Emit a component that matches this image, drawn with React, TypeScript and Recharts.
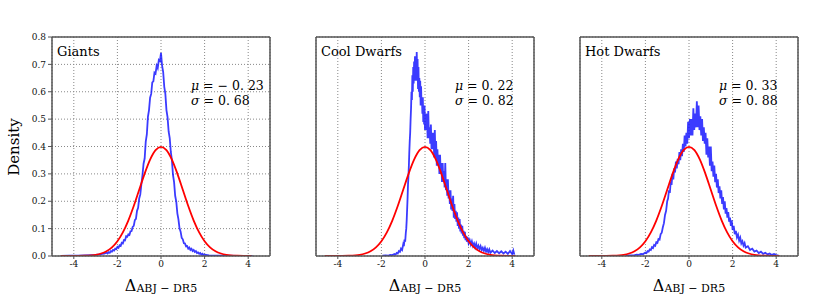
import React from 'react';
import { LineChart, Line, XAxis, YAxis, CartesianGrid, ReferenceLine } from 'recharts';

// ---------- data ----------
const panelTitles = ['Giants', 'Cool Dwarfs', 'Hot Dwarfs'];
const muLabels = ['− 0. 23', '0. 22', '0. 33'];
const sigmaLabels = ['0. 68', '0. 82', '0. 88'];
const xTicks = [-4, -2, 0, 2, 4];
const yTicks = [0, 0.1, 0.2, 0.3, 0.4, 0.5, 0.6, 0.7, 0.8];

// reference unit normal curve (red)
const redX = [-4.6, -4.2, -3.8, -3.5, -3.2, -3.0, -2.75, -2.5, -2.25, -2.0, -1.75, -1.5, -1.25, -1.0, -0.75, -0.5, -0.25, 0, 0.25, 0.5, 0.75, 1.0, 1.25, 1.5, 1.75, 2.0, 2.25, 2.5, 2.75, 3.0, 3.2, 3.5, 3.8, 4.15];
const redY = [0.00001, 0.00006, 0.0003, 0.0009, 0.0024, 0.0044, 0.0091, 0.0175, 0.0317, 0.054, 0.0863, 0.1295, 0.1826, 0.242, 0.3011, 0.3521, 0.3867, 0.3989, 0.3867, 0.3521, 0.3011, 0.242, 0.1826, 0.1295, 0.0863, 0.054, 0.0317, 0.0175, 0.0091, 0.0044, 0.0024, 0.0009, 0.0003, 0.00007];

// measured densities (blue) as [x, density]
const giantsBlue = [
  [-4.6, 0], [-4.2, 0.001], [-3.8, 0.001], [-3.5, 0.002], [-3.2, 0.003], [-3.0, 0.004], [-2.8, 0.006], [-2.7, 0.008], [-2.6, 0.009],
  [-2.5, 0.012], [-2.45, 0.009], [-2.4, 0.014], [-2.35, 0.012], [-2.3, 0.018], [-2.25, 0.016], [-2.2, 0.022], [-2.15, 0.02],
  [-2.1, 0.027], [-2.05, 0.025], [-2.0, 0.033], [-1.95, 0.03], [-1.9, 0.039], [-1.85, 0.037], [-1.8, 0.048], [-1.75, 0.046],
  [-1.7, 0.058], [-1.65, 0.057], [-1.6, 0.072], [-1.55, 0.07], [-1.5, 0.079], [-1.45, 0.077], [-1.4, 0.09], [-1.35, 0.091],
  [-1.3, 0.106], [-1.25, 0.11], [-1.2, 0.131], [-1.15, 0.136], [-1.1, 0.165], [-1.05, 0.176], [-1.0, 0.21], [-0.95, 0.225],
  [-0.9, 0.262], [-0.85, 0.295], [-0.8, 0.337], [-0.75, 0.356], [-0.7, 0.418], [-0.65, 0.444], [-0.6, 0.508], [-0.55, 0.533],
  [-0.5, 0.578], [-0.45, 0.592], [-0.4, 0.634], [-0.35, 0.638], [-0.3, 0.67], [-0.25, 0.666], [-0.2, 0.695], [-0.15, 0.686],
  [-0.1, 0.716], [-0.05, 0.712], [0.0, 0.742], [0.05, 0.695], [0.1, 0.672], [0.15, 0.618], [0.2, 0.592], [0.25, 0.533],
  [0.3, 0.507], [0.35, 0.455], [0.4, 0.431], [0.45, 0.38], [0.5, 0.35], [0.55, 0.296], [0.6, 0.27], [0.65, 0.22],
  [0.7, 0.199], [0.75, 0.156], [0.8, 0.134], [0.85, 0.101], [0.9, 0.089], [0.95, 0.066], [1.0, 0.061], [1.05, 0.047],
  [1.1, 0.046], [1.15, 0.035], [1.2, 0.036], [1.25, 0.027], [1.3, 0.031], [1.35, 0.022], [1.4, 0.026], [1.45, 0.018],
  [1.5, 0.022], [1.55, 0.015], [1.6, 0.018], [1.65, 0.011], [1.7, 0.013], [1.75, 0.008], [1.8, 0.011], [1.85, 0.005],
  [1.9, 0.008], [1.95, 0.004], [2.0, 0.005], [2.2, 0.002], [2.5, 0.001], [3.0, 0.001], [3.5, 0], [4.2, 0],
];

const coolBlue = [
  [-1.95, 0.001], [-1.8, 0.002], [-1.7, 0.001], [-1.6, 0.004], [-1.5, 0.003], [-1.4, 0.007], [-1.35, 0.005], [-1.3, 0.011],
  [-1.25, 0.009], [-1.2, 0.018], [-1.15, 0.015], [-1.1, 0.027], [-1.05, 0.022], [-1.0, 0.042], [-0.97, 0.036], [-0.94, 0.06],
  [-0.91, 0.052], [-0.88, 0.085], [-0.86, 0.1], [-0.84, 0.13], [-0.82, 0.17], [-0.8, 0.21], [-0.78, 0.26], [-0.76, 0.29],
  [-0.74, 0.33], [-0.72, 0.38], [-0.7, 0.42], [-0.68, 0.45], [-0.66, 0.5], [-0.64, 0.54], [-0.62, 0.6], [-0.6, 0.57],
  [-0.58, 0.66], [-0.56, 0.6], [-0.54, 0.69], [-0.52, 0.63], [-0.5, 0.71], [-0.48, 0.64], [-0.46, 0.73], [-0.44, 0.67],
  [-0.42, 0.7], [-0.4, 0.64], [-0.38, 0.745], [-0.36, 0.67], [-0.34, 0.72], [-0.32, 0.61], [-0.3, 0.69], [-0.28, 0.6],
  [-0.26, 0.65], [-0.24, 0.58], [-0.22, 0.64], [-0.2, 0.55], [-0.18, 0.62], [-0.16, 0.55], [-0.14, 0.58], [-0.12, 0.52],
  [-0.1, 0.58], [-0.08, 0.49], [-0.06, 0.54], [-0.04, 0.48], [-0.02, 0.55], [0.0, 0.46], [0.03, 0.52], [0.06, 0.46],
  [0.09, 0.52], [0.12, 0.43], [0.15, 0.53], [0.18, 0.43], [0.21, 0.47], [0.24, 0.41], [0.27, 0.48], [0.3, 0.39],
  [0.33, 0.45], [0.36, 0.39], [0.39, 0.45], [0.42, 0.36], [0.45, 0.46], [0.48, 0.36], [0.51, 0.42], [0.54, 0.33],
  [0.57, 0.39], [0.6, 0.33], [0.63, 0.37], [0.66, 0.3], [0.69, 0.37], [0.72, 0.3], [0.75, 0.34], [0.78, 0.27],
  [0.81, 0.34], [0.84, 0.27], [0.87, 0.31], [0.9, 0.25], [0.93, 0.34], [0.96, 0.24], [0.99, 0.28], [1.02, 0.22],
  [1.05, 0.28], [1.08, 0.21], [1.11, 0.24], [1.14, 0.19], [1.17, 0.24], [1.2, 0.17], [1.23, 0.21], [1.26, 0.165],
  [1.29, 0.22], [1.32, 0.14], [1.35, 0.19], [1.38, 0.135], [1.41, 0.165], [1.44, 0.125], [1.47, 0.16], [1.5, 0.11],
  [1.53, 0.14], [1.56, 0.1], [1.59, 0.135], [1.62, 0.09], [1.65, 0.115], [1.68, 0.082], [1.71, 0.11], [1.74, 0.074],
  [1.77, 0.092], [1.8, 0.065], [1.83, 0.088], [1.86, 0.058], [1.89, 0.074], [1.92, 0.052], [1.95, 0.07], [2.0, 0.047],
  [2.05, 0.058], [2.1, 0.042], [2.15, 0.054], [2.2, 0.037], [2.25, 0.046], [2.3, 0.032], [2.35, 0.045], [2.4, 0.028],
  [2.45, 0.038], [2.5, 0.025], [2.55, 0.036], [2.6, 0.022], [2.65, 0.03], [2.7, 0.019], [2.75, 0.03], [2.8, 0.016],
  [2.85, 0.025], [2.9, 0.014], [2.95, 0.024], [3.0, 0.012], [3.1, 0.02], [3.2, 0.011], [3.3, 0.018], [3.4, 0.01],
  [3.5, 0.017], [3.6, 0.009], [3.7, 0.016], [3.8, 0.008], [3.9, 0.018], [4.0, 0.007], [4.05, 0.02], [4.1, 0.005],
];

const hotBlue = [
  [-2.9, 0.001], [-2.7, 0.002], [-2.5, 0.003], [-2.4, 0.005], [-2.3, 0.004], [-2.2, 0.008], [-2.1, 0.007], [-2.0, 0.013],
  [-1.95, 0.011], [-1.9, 0.018], [-1.85, 0.016], [-1.8, 0.024], [-1.75, 0.022], [-1.7, 0.032], [-1.65, 0.029], [-1.6, 0.04],
  [-1.55, 0.037], [-1.5, 0.05], [-1.45, 0.048], [-1.4, 0.062], [-1.35, 0.06], [-1.3, 0.08], [-1.25, 0.085], [-1.2, 0.105],
  [-1.15, 0.12], [-1.1, 0.15], [-1.05, 0.165], [-1.0, 0.2], [-0.96, 0.21], [-0.92, 0.24], [-0.88, 0.23], [-0.84, 0.27],
  [-0.8, 0.26], [-0.76, 0.3], [-0.72, 0.28], [-0.68, 0.32], [-0.64, 0.305], [-0.6, 0.345], [-0.56, 0.32], [-0.52, 0.355],
  [-0.48, 0.335], [-0.44, 0.38], [-0.4, 0.35], [-0.36, 0.39], [-0.32, 0.365], [-0.28, 0.41], [-0.24, 0.38], [-0.2, 0.44],
  [-0.16, 0.4], [-0.12, 0.45], [-0.08, 0.41], [-0.04, 0.49], [0.0, 0.43], [0.04, 0.5], [0.08, 0.44], [0.12, 0.5],
  [0.16, 0.44], [0.2, 0.54], [0.24, 0.46], [0.28, 0.52], [0.32, 0.47], [0.36, 0.565], [0.4, 0.47], [0.44, 0.55],
  [0.48, 0.46], [0.52, 0.51], [0.56, 0.44], [0.6, 0.5], [0.64, 0.42], [0.68, 0.47], [0.72, 0.41], [0.76, 0.45],
  [0.8, 0.37], [0.84, 0.43], [0.88, 0.36], [0.92, 0.4], [0.96, 0.33], [1.0, 0.4], [1.04, 0.31], [1.08, 0.345],
  [1.12, 0.29], [1.16, 0.33], [1.2, 0.27], [1.24, 0.3], [1.28, 0.25], [1.32, 0.28], [1.36, 0.23], [1.4, 0.255],
  [1.44, 0.21], [1.48, 0.24], [1.52, 0.19], [1.56, 0.215], [1.6, 0.17], [1.64, 0.2], [1.68, 0.155], [1.72, 0.175],
  [1.76, 0.14], [1.8, 0.16], [1.84, 0.125], [1.88, 0.14], [1.92, 0.11], [1.96, 0.13], [2.0, 0.095], [2.05, 0.11],
  [2.1, 0.08], [2.15, 0.092], [2.2, 0.068], [2.25, 0.078], [2.3, 0.056], [2.35, 0.067], [2.4, 0.046], [2.45, 0.054],
  [2.5, 0.038], [2.55, 0.047], [2.6, 0.031], [2.7, 0.036], [2.8, 0.022], [2.9, 0.027], [3.0, 0.016], [3.1, 0.02],
  [3.2, 0.011], [3.3, 0.016], [3.4, 0.008], [3.5, 0.012], [3.6, 0.006], [3.7, 0.009], [3.8, 0.004], [3.9, 0.007],
  [4.0, 0.003], [4.1, 0.002],
];

// ---------- layout / style ----------
const PLOT_LEFTS = [52, 316, 580];
const PLOT_W = 218;
const Y_AXIS_W = 50;
const RIGHT_PAD = 10;
const FRAME = '#555';
const SERIF = "'DejaVu Serif', serif";

const redData = redX.map((x, i) => ({ x, y: redY[i] }));
const blueSets = [giantsBlue, coolBlue, hotBlue].map((s) => s.map(([x, y]) => ({ x, y })));

function Panel({ idx }: { idx: number }) {
  const W = Y_AXIS_W + PLOT_W + RIGHT_PAD;
  const left = PLOT_LEFTS[idx] - Y_AXIS_W;
  const showY = idx === 0;
  const tickStyle = { fontSize: 9, fill: '#111', fontFamily: SERIF };
  return (
    <div style={{ position: 'absolute', left, top: 0, width: W, height: 300 }}>
      <LineChart width={W} height={300} margin={{ top: 37, right: RIGHT_PAD, left: 0, bottom: 26 }}>
        <CartesianGrid stroke="#888" strokeDasharray="1 2" />
        <XAxis
          type="number"
          dataKey="x"
          domain={[-5, 5]}
          ticks={xTicks}
          allowDataOverflow
          height={18}
          tickSize={3}
          tickLine={{ stroke: FRAME }}
          axisLine={{ stroke: FRAME, strokeWidth: 1.5 }}
          tick={tickStyle}
        />
        <YAxis
          type="number"
          dataKey="y"
          domain={[0, 0.8]}
          ticks={yTicks}
          allowDataOverflow
          width={Y_AXIS_W}
          tickSize={4}
          tickLine={{ stroke: FRAME }}
          axisLine={{ stroke: FRAME, strokeWidth: 1.5 }}
          tickFormatter={(v: number) => v.toFixed(1)}
          tick={showY ? tickStyle : false}
        />
        <Line
          data={blueSets[idx]}
          dataKey="y"
          type="linear"
          stroke="#0a0aff"
          strokeOpacity={0.8}
          strokeWidth={1.8}
          dot={false}
          isAnimationActive={false}
        />
        <Line
          data={redData}
          dataKey="y"
          type="monotone"
          stroke="#ff0000"
          strokeWidth={1.8}
          dot={false}
          isAnimationActive={false}
        />
        <ReferenceLine y={0.8} stroke={FRAME} strokeWidth={1.5} />
        <ReferenceLine x={5} stroke={FRAME} strokeWidth={1.5} />
      </LineChart>
    </div>
  );
}

export default function App() {
  return (
    <div style={{ position: 'absolute', left: 0, top: 0, width: 831, height: 300, background: '#fff', overflow: 'hidden' }}>
      {[0, 1, 2].map((i) => (
        <Panel key={i} idx={i} />
      ))}
      <svg width={831} height={300} style={{ position: 'absolute', left: 0, top: 0, pointerEvents: 'none' }}>
        <text transform="translate(18.5,147) rotate(-90)" textAnchor="middle" fontSize={15} fontFamily={SERIF} fill="#000">
          Density
        </text>
        {PLOT_LEFTS.map((pl, i) => (
          <g key={i} fontFamily={SERIF} fill="#000">
            <text x={pl + 5} y={56} fontSize={13}>
              {panelTitles[i]}
            </text>
            <text x={pl + 139} y={89.5} fontSize={12.5}>
              <tspan fontStyle="italic">μ</tspan>
              <tspan>{' = ' + muLabels[i]}</tspan>
            </text>
            <text x={pl + 139} y={104.5} fontSize={12.5}>
              <tspan fontStyle="italic">σ</tspan>
              <tspan>{' = ' + sigmaLabels[i]}</tspan>
            </text>
            <text x={pl + PLOT_W / 2} y={290.5} textAnchor="middle">
              <tspan fontSize={16}>Δ</tspan>
              <tspan fontSize={11} dy={1.5}>ABJ − DR5</tspan>
            </text>
          </g>
        ))}
      </svg>
    </div>
  );
}
